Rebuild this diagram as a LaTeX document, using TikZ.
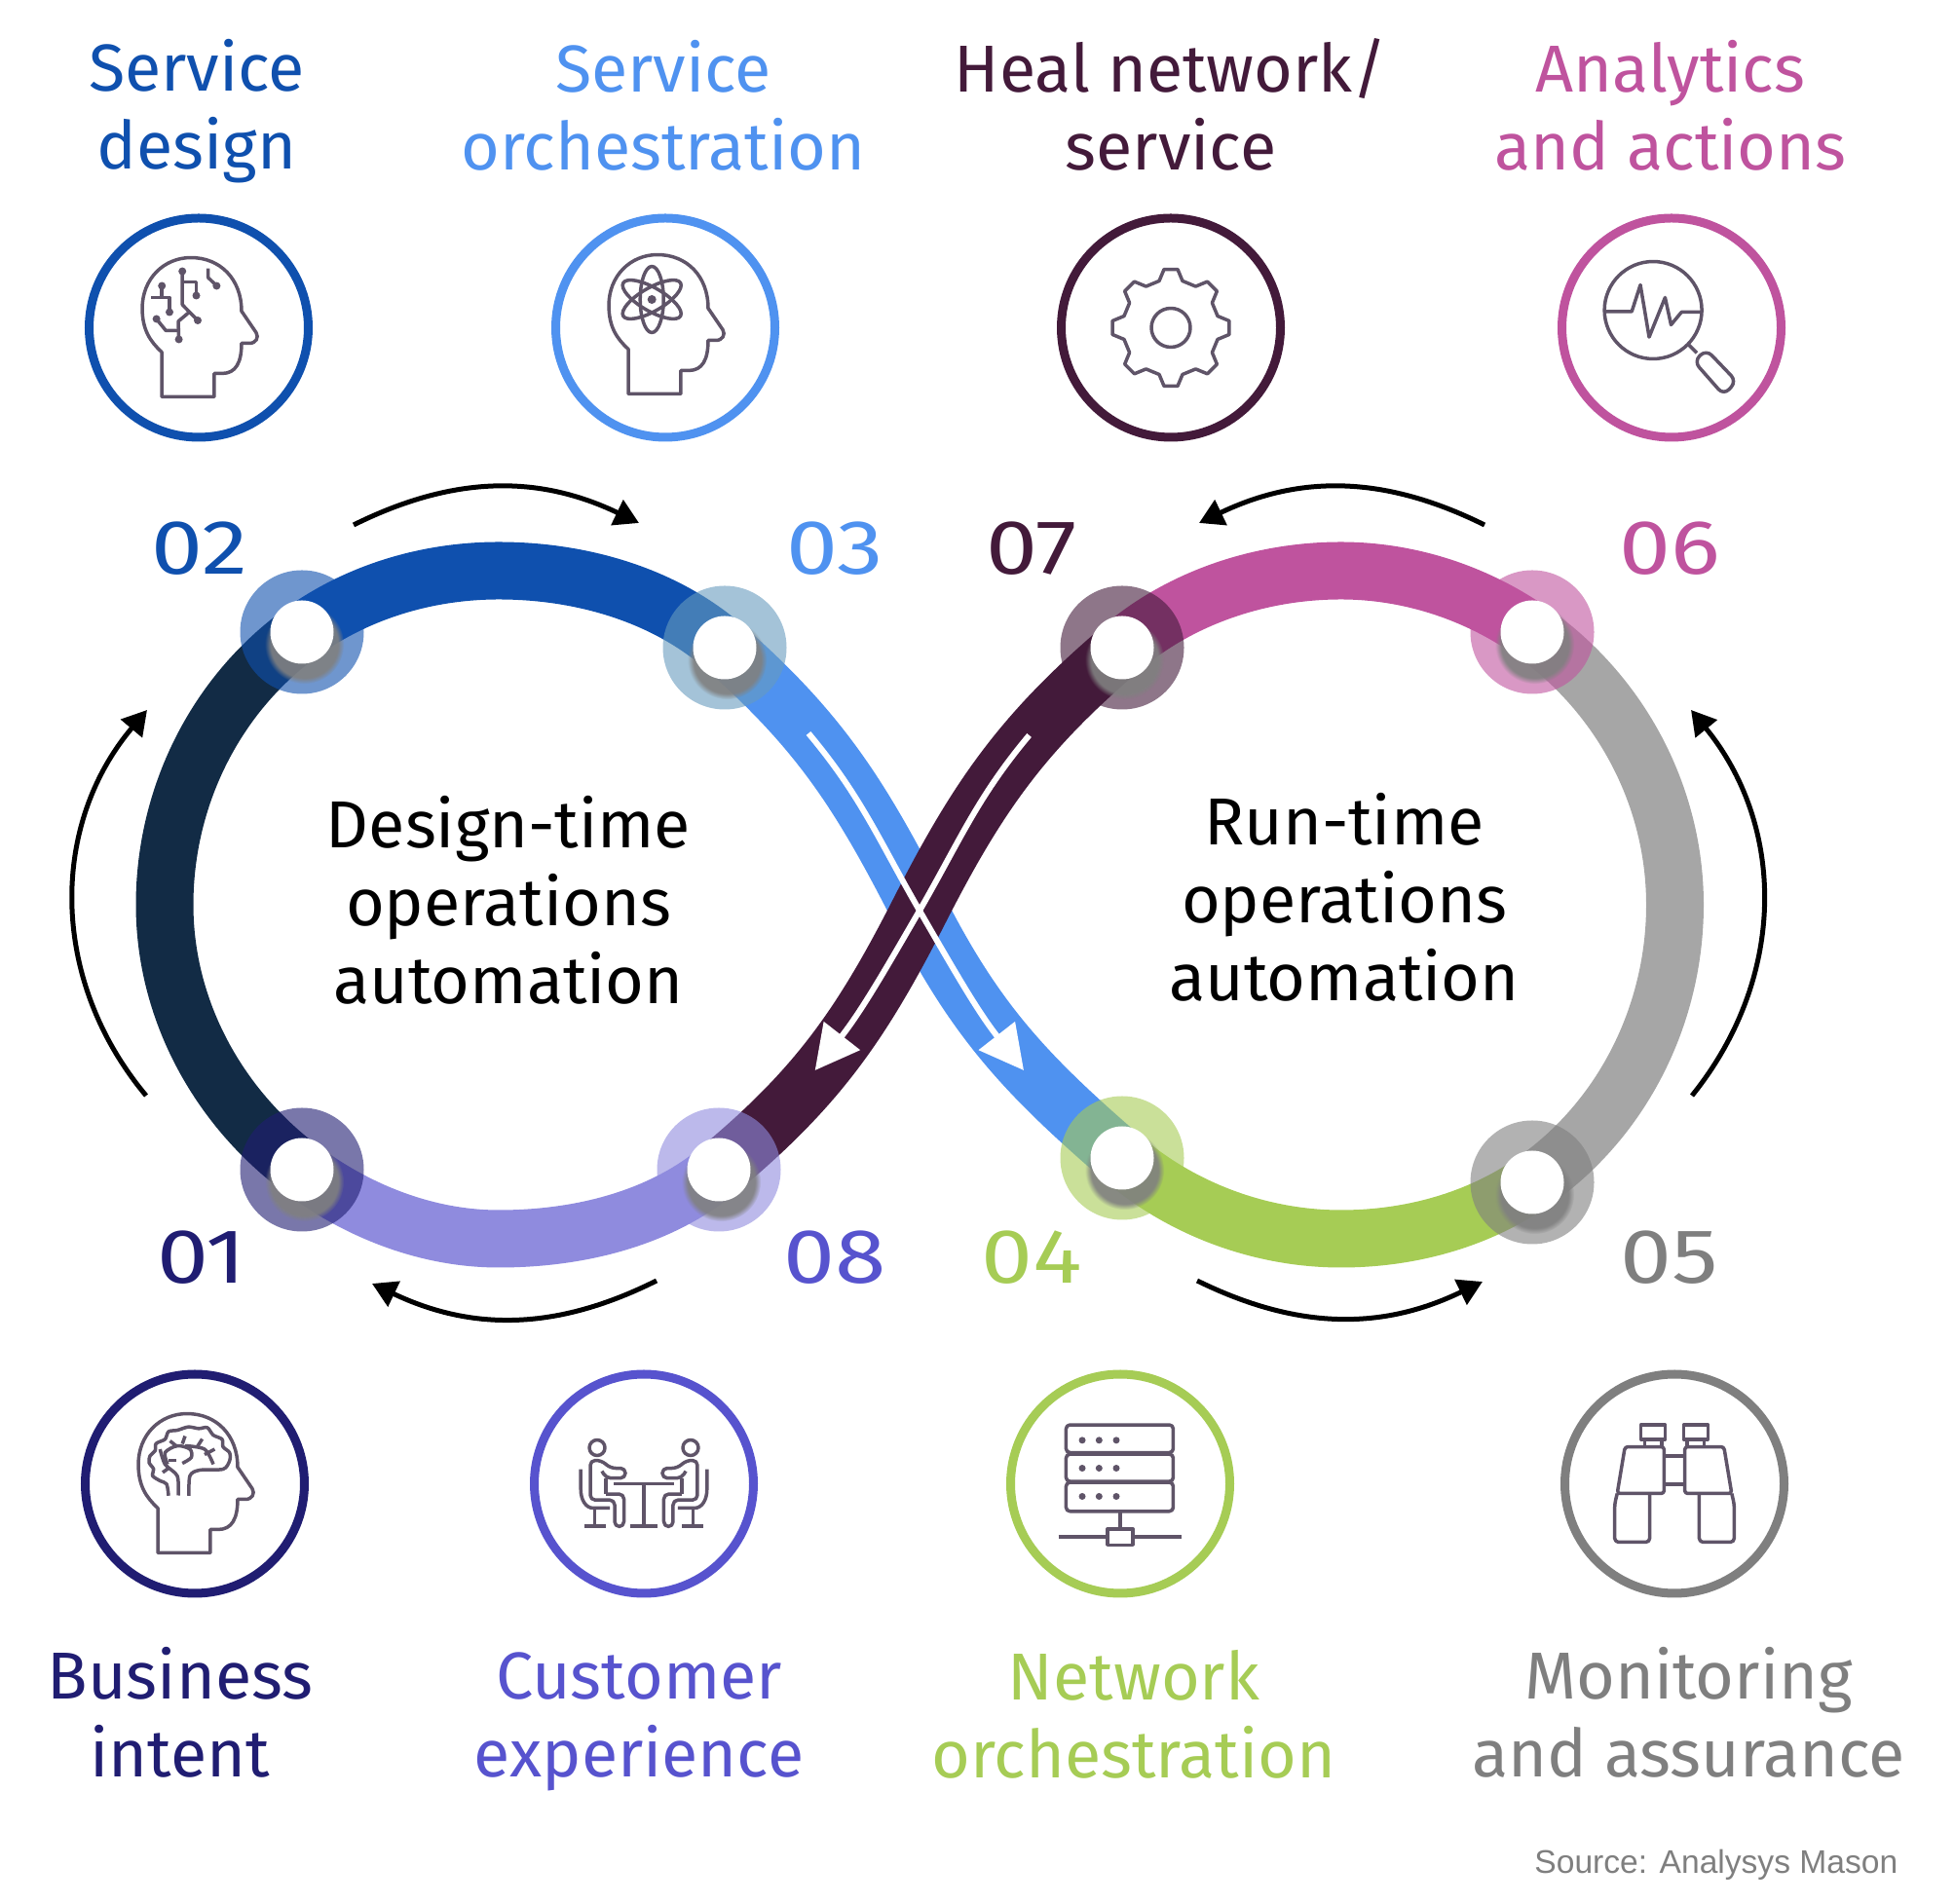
\documentclass[tikz,border=0pt]{standalone}
\usepackage{fontspec}
\setmainfont{Fira Sans}
\newfontfamily\srcfont{Liberation Sans}
\newfontfamily\numfont[FakeStretch=1.2]{Fira Sans}
\usetikzlibrary{arrows.meta,positioning,shadows,backgrounds}

\definecolor{cnavy}{HTML}{122B45}
\definecolor{cindigo}{HTML}{201D72}
\definecolor{cblue}{HTML}{0F50AE}
\definecolor{csky}{HTML}{4F92F0}
\definecolor{csteel}{HTML}{679BBE}
\definecolor{cplum}{HTML}{431A3A}
\definecolor{cpink}{HTML}{BF539E}
\definecolor{cgrey}{HTML}{A6A6A6}
\definecolor{cgreydark}{HTML}{7F7F7F}
\definecolor{cgreen}{HTML}{A6CC55}
\definecolor{clav}{HTML}{8F8BDE}
\definecolor{cviolet}{HTML}{5753CE}
\definecolor{cicon}{HTML}{5F5468}

\newcommand\headpath{(-38,-71) -- (16,-71) -- (16,-47) -- (24,-47) .. controls (38,-47) and (44,-36) .. (44,-16) -- (52,-16) .. controls (59,-16) and (62,-10) .. (59,-5) -- (44,17) .. controls (44,50) and (22,72) .. (-8,72) .. controls (-36,72) and (-58,50) .. (-58,20) .. controls (-58,-2) and (-50,-14) .. (-38,-25) -- cycle}

\begin{document}
\begin{tikzpicture}[
    node distance=2.3cm,
    band/.style={line width=.59cm},
    halo/.style={circle, minimum size=1.27cm, inner sep=0pt, fill opacity=.6},
    dot/.style={circle, fill=white, minimum size=.65cm, inner sep=0pt, circular drop shadow={shadow xshift=.02cm, shadow yshift=-.1cm, shadow scale=1.25, opacity=.9}},
    ring/.style={circle, line width=.09cm, minimum size=2.25cm, inner sep=0pt, fill=white},
    title/.style={font=\fontsize{19.4}{22.8}\selectfont, align=center},
    num/.style={font=\numfont\fontsize{22.5}{26}\selectfont},
    centretext/.style={title, text=black},
    flow/.style={-{Triangle[length=.25cm,width=.28cm]}, black, line width=.05cm},
    whitearrow/.style={-{Triangle[length=.45cm,width=.46cm]}, white, line width=.06cm},
    iconline/.style={cicon, line width=.035cm, line join=round},
    icondot/.style={fill=cicon, draw=none}
]
\useasboundingbox (0,0) rectangle (20.06,19.54);

% Step nodes on the loop
\node[halo, fill=cindigo] (n01) at (3.10,7.53) {};
\node[halo, fill=cblue] (n02) at (3.10,13.05) {};
\node[halo, fill=csteel] (n03) at (7.44,12.89) {};
\node[halo, fill=cgreen] (n04) at (11.52,7.65) {};
\node[halo, fill=cgreydark] (n05) at (15.73,7.40) {};
\node[halo, fill=cpink] (n06) at (15.73,13.05) {};
\node[halo, fill=cplum] (n07) at (11.52,12.89) {};
\node[halo, fill=clav] (n08) at (7.38,7.53) {};
\coordinate (xc) at (9.44,10.19);
\coordinate (topl) at (5.12,13.68);
\coordinate (botl) at (5.12,6.82);
\coordinate (midl) at (1.69,10.25);
\coordinate (midr) at (17.195,10.25);
\coordinate (topr) at (13.765,13.68);
\coordinate (botr) at (13.765,6.82);

\node[dot] (d01) at (n01) {};
\node[dot] (d02) at (n02) {};
\node[dot] (d03) at (n03) {};
\node[dot] (d04) at (n04) {};
\node[dot] (d05) at (n05) {};
\node[dot] (d06) at (n06) {};
\node[dot] (d07) at (n07) {};
\node[dot] (d08) at (n08) {};

% Loop bands
\begin{scope}[on background layer]
\draw[band, cnavy] (n01.center) to[out=143.4, in=-90, looseness=.9] (midl) to[out=90, in=215.8, looseness=.9] (n02.center);
\draw[band, cblue] (n02.center) to[out=35.8, in=180, looseness=.87] (topl) to[out=0, in=138.7, looseness=.87] (n03.center);
\draw[band, csky] (n03.center) to[out=-41.3, in=117] (xc) to[out=-63, in=139.2] (n04.center);
\draw[band, cgreen] (n04.center) to[out=319.2, in=180, looseness=.87] (botr) to[out=0, in=214.6, looseness=.87] (n05.center);
\draw[band, cgrey] (n05.center) to[out=34.6, in=-90, looseness=.9] (midr) to[out=90, in=324.9, looseness=.9] (n06.center);
\draw[band, cpink] (n06.center) to[out=144.9, in=0, looseness=.87] (topr) to[out=180, in=40.4, looseness=.87] (n07.center);
\draw[band, clav] (n01.center) to[out=323.4, in=180, looseness=.87] (botl) to[out=0, in=219.7, looseness=.87] (n08.center);
\draw[band, cplum] (n07.center) to[out=220.4, in=63] (xc) to[out=243, in=39.7] (n08.center);
\end{scope}

% White arrows along the crossing
\coordinate (w3s) at (8.30,12.01);
\coordinate (w3e) at (10.51,8.55);
\coordinate (w7s) at (10.566,11.99);
\coordinate (w7e) at (8.367,8.55);
\draw[whitearrow] (w3s) to[out=-50, in=120] (xc) to[out=-60, in=128] (w3e);
\draw[whitearrow] (w7s) to[out=230, in=60] (xc) to[out=240, in=52] (w7e);

% Black flow arrows
\coordinate (f1a) at (3.63,14.15);
\coordinate (f1b) at (6.56,14.17);
\coordinate (f2a) at (15.24,14.15);
\coordinate (f2b) at (12.31,14.17);
\coordinate (f3a) at (1.50,8.29);
\coordinate (f3b) at (1.51,12.25);
\coordinate (f4a) at (17.37,8.29);
\coordinate (f4b) at (17.36,12.25);
\coordinate (f5a) at (6.74,6.39);
\coordinate (f5b) at (3.82,6.36);
\coordinate (f6a) at (12.29,6.39);
\coordinate (f6b) at (15.22,6.38);
\draw[flow] (f1a) to[bend left=26] (f1b);
\draw[flow] (f2a) to[bend right=26] (f2b);
\draw[flow] (f3a) to[bend left=40] (f3b);
\draw[flow] (f4a) to[bend right=39] (f4b);
\draw[flow] (f5a) to[bend left=26] (f5b);
\draw[flow] (f6a) to[bend right=26] (f6b);

% Icon rings
\node[ring, draw=cindigo] (ring01) at (2.00,4.305) {};
\node[ring, draw=cblue] (ring02) at (2.04,16.175) {};
\node[ring, draw=csky] (ring03) at (6.83,16.175) {};
\node[ring, draw=cgreen] (ring04) at (11.50,4.305) {};
\node[ring, draw=cgreydark] (ring05) at (17.19,4.305) {};
\node[ring, draw=cpink] (ring06) at (17.16,16.175) {};
\node[ring, draw=cplum] (ring07) at (12.02,16.175) {};
\node[ring, draw=cviolet] (ring08) at (6.61,4.305) {};

% Titles
\node[title, text=cblue, above of=ring02, xshift=-.02cm, yshift=-.08cm] (t02) {Service\\design};
\node[title, text=csky, above of=ring03, xshift=-.02cm, yshift=-.015cm] (t03) {Service\\orchestration};
\node[title, text=cplum, above of=ring07, xshift=0cm, yshift=-.012cm] (t07) {Heal network/\\service};
\node[title, text=cpink, above of=ring06, xshift=-.01cm, yshift=-.015cm] (t06) {Analytics\\and actions};
\node[title, text=cindigo, below of=ring01, xshift=-.15cm, yshift=-.05cm] (t01) {Business\\intent};
\node[title, text=cviolet, below of=ring08, xshift=-.05cm, yshift=-.14cm] (t08) {Customer\\experience};
\node[title, text=cgreen, below of=ring04, xshift=.14cm, yshift=-.065cm] (t04) {Network\\orchestration};
\node[title, text=cgreydark, below of=ring05, xshift=.145cm, yshift=-.05cm] (t05) {Monitoring\\and assurance};

% Step numbers
\node[num, text=cblue, below of=ring02, yshift=.035cm, xshift=.01cm] (l02) {02};
\node[num, text=csky, below of=ring03, yshift=.035cm, xshift=1.74cm] (l03) {03};
\node[num, text=cplum, below of=ring07, yshift=.035cm, xshift=-1.43cm] (l07) {07};
\node[num, text=cpink, below of=ring06, yshift=.035cm, xshift=-.02cm] (l06) {06};
\node[num, text=cindigo, above of=ring01, yshift=.025cm, xshift=.07cm] (l01) {01};
\node[num, text=cviolet, above of=ring08, yshift=.025cm, xshift=1.96cm] (l08) {08};
\node[num, text=cgreen, above of=ring04, yshift=.025cm, xshift=-.91cm] (l04) {04};
\node[num, text=cgreydark, above of=ring05, yshift=.025cm, xshift=-.05cm] (l05) {05};

% Centre labels
\node[centretext] (designtime) at (5.22,10.30) {Design-time\\operations\\automation};
\node[centretext] (runtime) at (13.80,10.33) {Run-time\\operations\\automation};

% Source line
\node[anchor=east, inner sep=0pt, font=\srcfont\fontsize{9.56}{11}\selectfont, text=cgreydark] (source) at (19.49,.39) {Source: Analysys Mason};

% Icon: circuit head
\begin{scope}[shift={(ring02)}, x=.01cm, y=.01cm]
\draw[iconline] \headpath;
\draw[iconline] (-16.8,58) -- (-16.8,23.6) -- (-1,7.5);
\draw[iconline] (-9.7,16) -- (-21,6.5) -- (-20.4,-12);
\draw[iconline] (-21,-3) -- (-33.7,-3) -- (-43.4,9);
\draw[iconline] (-16.8,47) -- (-2.5,47) -- (-2.5,33);
\draw[iconline] (9.7,61) -- (9.7,51.5) -- (18.4,43);
\draw[iconline] (-37.8,43) -- (-37.8,31);
\draw[iconline] (-49,31) -- (-30,31) -- (-30,16);
\foreach \p in {(-16.8,58),(-1,7.5),(-20.4,-12),(-43.4,9),(-2.5,33),(18.4,43),(-37.8,43),(-30,16)}
  \fill[icondot] \p circle (4);
\end{scope}

% Icon: atom head
\begin{scope}[shift={(ring03)}, yshift=.03cm, x=.01cm, y=.01cm]
\draw[iconline] \headpath;
\fill[icondot] (-13.8,26) circle (4.5);
\draw[iconline] (-13.8,26) ellipse [x radius=12, y radius=34];
\draw[iconline, rotate around={60:(-13.8,26)}] (-13.8,26) ellipse [x radius=12, y radius=34];
\draw[iconline, rotate around={-60:(-13.8,26)}] (-13.8,26) ellipse [x radius=12, y radius=34];
\end{scope}

% Icon: gear
\begin{scope}[shift={(ring07)}, x=.01cm, y=.01cm]
\draw[iconline] (104:49.5) \foreach \a in {0,-45,...,-315} {-- (\a+104:49.5) -- (\a+96.65:60.4) -- (\a+83.35:60.4) -- (\a+76:49.5)} -- cycle;
\draw[iconline] (0,0) circle (20);
\end{scope}

% Icon: magnifier
\begin{scope}[shift={(ring06)}, x=.01cm, y=.01cm]
\draw[iconline] (-18.9,18) circle (50);
\draw[iconline] (-68,16.7) -- (-40.8,16.7) -- (-32,44) -- (-23,-9.6) -- (-6.6,31) -- (-.5,3) -- (10.2,16) -- (30.6,16);
\draw[iconline] (16.8,-16.7) -- (26,-26);
\draw[iconline, rounded corners=.08cm] (23,-34.5) -- (35.7,-22.5) -- (66.8,-55) -- (53.6,-69.3) -- cycle;
\end{scope}

% Icon: brain head
\begin{scope}[shift={(ring01)}, x=.01cm, y=.01cm]
\draw[iconline] \headpath;
\draw[iconline] plot[smooth] coordinates {(-27,-12.3) (-29,-.3) (-35.7,3) (-43.4,8.2) (-42.3,15) (-47,21.8) (-46,28.7) (-40.8,33.8) (-39.8,41.3) (-30.6,45.7) (-27,53.6) (-17.9,55) (-6.6,58.4) (4,56.7) (12.8,57.7) (18.9,50) (28,45.7) (29,37.9) (35.7,32) (35.7,23.5) (29,15) (5,14) (-5,8.2) (-6,-12.3)};
\draw[iconline] plot[smooth] coordinates {(-17,-12) (-18,8) (-30.6,20) (-35.7,35.5)};
\draw[iconline] plot[smooth] coordinates {(-28,20) (-30.6,32) (-18,39) (-5,35.5) (-3.6,27) (-12.8,21)};
\draw[iconline] plot[smooth] coordinates {(-10,39) (10,35.5) (19,20)};
\draw[iconline] (7.6,46) -- (2.5,38);
\draw[iconline] (20.4,35.5) -- (10,30);
\draw[iconline] (-25.5,44) -- (-18,38);
\draw[iconline] (-10,49) -- (-12.8,41);
\draw[iconline] (-27,24) -- (-19,24);
\draw[iconline] (-33,11.6) -- (-27,16);
\end{scope}

% Icon: two people at a table
\begin{scope}[shift={(ring08)}, x=.01cm, y=.01cm]
\draw[iconline] (-31,0) -- (31,0);
\draw[iconline] (0,0) -- (0,-43.7);
\draw[iconline] (-14,-43.7) -- (14,-43.7);
\foreach \s in {1,-1} {
\begin{scope}[xscale=\s]
\draw[iconline] (-48,37) circle (8);
\draw[iconline, rounded corners=.05cm] (-39,-10.6) -- (-20.5,-10.6) -- (-20.5,-44) -- (-30,-44) -- (-30,-16.7) -- (-55,-16.7) -- (-55,24) -- (-44,24) -- (-34,16) -- (-19,16) -- (-19,5.8) -- (-39,5.8) -- (-43,13);
\draw[iconline] (-39,5.8) -- (-39,-10.6);
\draw[iconline] (-64.8,15) -- (-64.8,-6) .. controls (-64.8,-16) and (-60,-25) .. (-52,-25) -- (-35,-25);
\draw[iconline] (-50.5,-25) -- (-50.5,-43.7);
\draw[iconline] (-60.7,-43.7) -- (-39,-43.7);
\end{scope}
}
\end{scope}

% Icon: server rack
\begin{scope}[shift={(ring04)}, x=.01cm, y=.01cm]
\draw[iconline, rounded corners=.04cm] (-55.6,32) rectangle (54.5,60.5);
\draw[iconline, rounded corners=.04cm] (-55.6,2.4) rectangle (54.5,30.4);
\draw[iconline, rounded corners=.04cm] (-55.6,-28.3) rectangle (54.5,1.4);
\foreach \y in {44.7,16,-13}
  \foreach \x in {-39,-21.7,-4}
    \fill[icondot] (\x,\y) circle (3.5);
\draw[iconline] (0,-28.3) -- (0,-46.4);
\draw[iconline] (-13,-46.4) rectangle (13,-62.8);
\draw[iconline] (-63.5,-54.3) -- (-13,-54.3);
\draw[iconline] (13,-54.3) -- (63.5,-54.3);
\end{scope}

% Icon: binoculars
\begin{scope}[shift={(ring05)}, x=.01cm, y=.01cm]
\draw[iconline] (-10.6,28.7) -- (10.6,28.7);
\draw[iconline] (-10.6,-.3) -- (10.6,-.3);
\foreach \s in {1,-1} {
\begin{scope}[xscale=\s]
\draw[iconline] (-34.4,45.7) rectangle (-9.5,60.4);
\draw[iconline] (-30.7,38) rectangle (-13.2,45.7);
\draw[iconline, rounded corners=.03cm] (-50.8,38) -- (-10.6,38) -- (-10.6,-10) -- (-58.8,-10) -- cycle;
\draw[iconline, rounded corners=.04cm] (-58.8,-10) -- (-61.4,-20.8) -- (-61.4,-60) -- (-25.4,-60) -- (-25.4,-10);
\end{scope}
}
\end{scope}

\end{tikzpicture}
\end{document}
